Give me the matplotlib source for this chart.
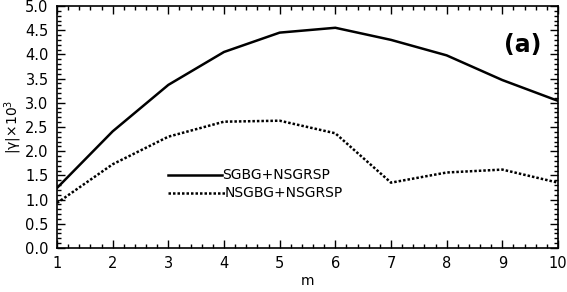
import numpy as np
import matplotlib
matplotlib.use("Agg")
import matplotlib.pyplot as plt
from matplotlib.ticker import MultipleLocator

# data
m = [1, 2, 3, 4, 5, 6, 7, 8, 9, 10]
sgbg = [1.24, 2.41, 3.37, 4.05, 4.45, 4.55, 4.30, 3.98, 3.47, 3.04]
nsgbg = [0.93, 1.73, 2.30, 2.61, 2.63, 2.37, 1.35, 1.56, 1.62, 1.35]
labels = ["SGBG+NSGRSP", "NSGBG+NSGRSP"]

plt.rcParams['font.family'] = ['DejaVu Sans']

fig = plt.figure(figsize=(5.67, 2.92), dpi=100)
ax = fig.add_axes([57/567, 44/292, 501/567, 242/292])

ax.plot(m, sgbg, 'k-', lw=1.8)
ax.plot(m, nsgbg, 'k', ls=(0, (1, 0.8)), lw=1.8)

ax.set_xlim(1, 10)
ax.set_ylim(0, 5)
ax.xaxis.set_major_locator(MultipleLocator(1))
ax.xaxis.set_minor_locator(MultipleLocator(0.2))
ax.yaxis.set_major_locator(MultipleLocator(0.5))
ax.yaxis.set_minor_locator(MultipleLocator(0.1))
ax.yaxis.set_major_formatter(matplotlib.ticker.FormatStrFormatter('%.1f'))
ax.tick_params(which='both', direction='in', top=True, right=True,
               labelsize=10.5, width=1)
ax.tick_params(which='major', length=6, pad=6)
ax.tick_params(which='minor', length=3)
for s in ax.spines.values():
    s.set_linewidth(1.2)

ax.set_xlabel('m', fontsize=10, labelpad=2)
ax.set_ylabel('|γ|×10$^3$', fontsize=10, labelpad=1)

# hand-drawn legend in data coordinates
ax.plot([3.0, 3.96], [1.51, 1.51], 'k-', lw=1.8)
ax.text(3.96, 1.51, labels[0], fontsize=10, va='center', ha='left')
ax.plot([3.0, 4.02], [1.14, 1.14], 'k', ls=(0, (1, 0.8)), lw=1.8)
ax.text(4.02, 1.14, labels[1], fontsize=10, va='center', ha='left')

ax.text(9.7, 4.2, '(a)', fontsize=17, fontweight='bold', ha='right', va='center')

fig.savefig('out.png', dpi=100)
